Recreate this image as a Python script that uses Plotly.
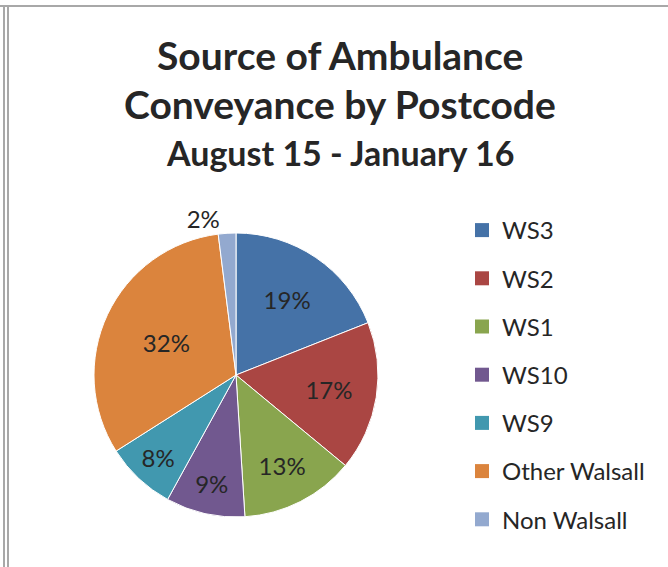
import plotly.graph_objects as go

W, H = 668, 567

categories = ["WS3", "WS2", "WS1", "WS10", "WS9", "Other Walsall", "Non Walsall"]
shares = [19, 17, 13, 9, 8, 32, 2]
colors = ["#4572A7", "#AA4643", "#89A54E", "#71588F", "#4198AF", "#DB843D", "#93A9CF"]
label_positions = ["inside", "inside", "inside", "inside", "inside", "inside", "outside"]

title_lines = ["Source of Ambulance", "Conveyance by Postcode", "August 15 - January 16"]

FONT = "Lato, 'Open Sans', sans-serif"
TXT = "#262626"

def px(x):
    return x / W

def py(y):
    return 1 - y / H

fig = go.Figure()

fig.add_trace(go.Pie(
    labels=categories,
    values=shares,
    sort=False,
    direction="clockwise",
    rotation=0,
    marker=dict(colors=colors, line=dict(color="white", width=1)),
    texttemplate="%{value}%",
    textposition=label_positions,
    insidetextorientation="horizontal",
    textfont=dict(family=FONT, size=24, color=TXT),
    showlegend=False,
    hoverinfo="label+percent",
    domain=dict(x=[px(94), px(378)], y=[py(517), py(233)]),
))

# legend entries (one per category, same data & colours)
for cat, col in zip(categories, colors):
    fig.add_trace(go.Scatter(
        x=[None], y=[None], mode="markers", name=cat, legendgroup=cat,
        marker=dict(symbol="square", size=14, color=col, line=dict(width=0)),
        showlegend=True, hoverinfo="skip",
    ))

annotations = []
for txt, yc, size in zip(title_lines, [55, 104, 153], [39, 39, 34]):
    annotations.append(dict(
        text=f"<b>{txt}</b>", x=px(340), y=py(yc), xref="paper", yref="paper",
        xanchor="center", yanchor="middle", showarrow=False,
        font=dict(family=FONT, size=size, color=TXT),
    ))

shapes = [
    dict(type="line", xref="paper", yref="paper", x0=0, x1=1, y0=py(6), y1=py(6),
         line=dict(color="#A8A8A8", width=2)),
    dict(type="line", xref="paper", yref="paper", x0=px(4), x1=px(4), y0=0, y1=py(6),
         line=dict(color="#A8A8A8", width=2)),
    dict(type="line", xref="paper", yref="paper", x0=px(8), x1=px(8), y0=0, y1=py(6),
         line=dict(color="#A8A8A8", width=2)),
]

fig.update_layout(
    width=W, height=H,
    margin=dict(l=0, r=0, t=0, b=0),
    paper_bgcolor="white", plot_bgcolor="white",
    xaxis=dict(visible=False), yaxis=dict(visible=False),
    showlegend=True,
    legend=dict(
        x=px(462), y=py(208), xanchor="left", yanchor="top",
        font=dict(family=FONT, size=24, color=TXT),
        tracegroupgap=14, bgcolor="rgba(0,0,0,0)",
    ),
    annotations=annotations,
    shapes=shapes,
)

fig.write_html("out.html")
